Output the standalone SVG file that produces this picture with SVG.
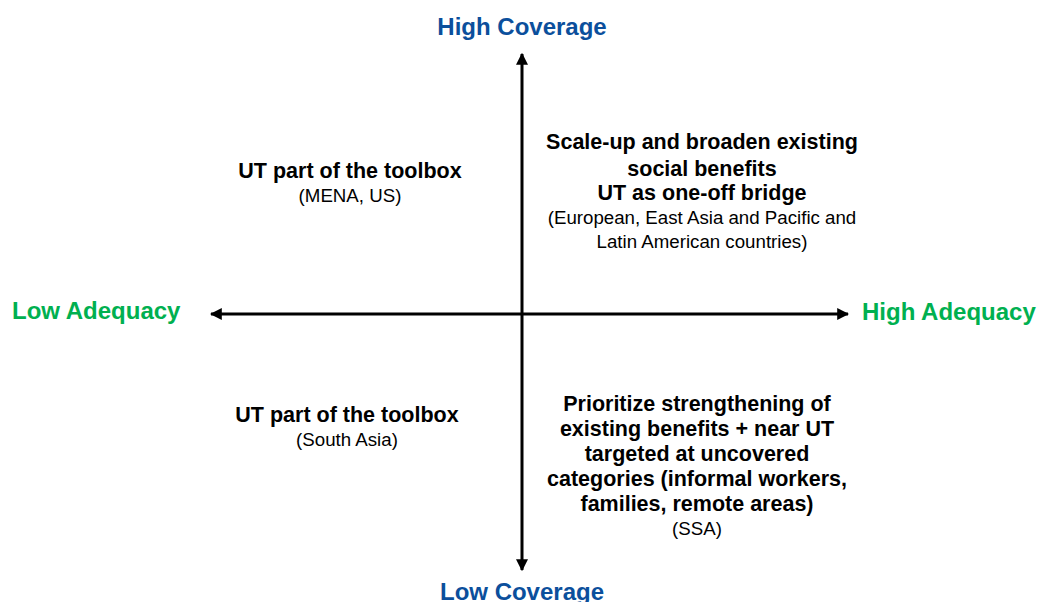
<svg xmlns="http://www.w3.org/2000/svg" width="1037" height="602" viewBox="0 0 1037 602">
<style>
.ax{fill:#0B4F9C;font-family:"Liberation Sans",Arial,sans-serif;font-weight:bold;font-size:24px;text-anchor:middle}
.ad{fill:#00B050;font-family:"Liberation Sans",Arial,sans-serif;font-weight:bold;font-size:24px}
.b{fill:#000;font-family:"Liberation Sans",Arial,sans-serif;font-weight:bold;font-size:21.5px;text-anchor:middle}
.r{fill:#000;font-family:"Liberation Sans",Arial,sans-serif;font-size:18.7px;text-anchor:middle}
.ln{stroke:#000;stroke-width:3;fill:none}
</style>
<defs>
<marker id="ah" viewBox="0 0 10 10" refX="9" refY="5" markerWidth="4" markerHeight="4" orient="auto-start-reverse" markerUnits="strokeWidth">
<path d="M0,0 L10,5 L0,10 z" fill="#000"/>
</marker>
</defs>
<rect width="1037" height="602" fill="#fff"/>
<g id="connectors">
<line class="ln" x1="522" y1="54" x2="522" y2="570" marker-start="url(#ah)" marker-end="url(#ah)"/>
<line class="ln" x1="211" y1="314" x2="848" y2="314" marker-start="url(#ah)" marker-end="url(#ah)"/>
</g>
<g id="high-coverage"><text class="ax" x="522" y="35">High Coverage</text></g>
<g id="low-coverage"><text class="ax" x="522" y="600">Low Coverage</text></g>
<g id="low-adequacy"><text class="ad" x="12" y="319">Low Adequacy</text></g>
<g id="high-adequacy"><text class="ad" x="862" y="320">High Adequacy</text></g>
<g id="top-left">
<text class="b" x="350" y="178">UT part of the toolbox</text>
<text class="r" x="350" y="202">(MENA, US)</text>
</g>
<g id="top-right">
<text class="b" x="702" y="149">Scale-up and broaden existing</text>
<text class="b" x="702" y="176">social benefits</text>
<text class="b" x="702" y="200">UT as one-off bridge</text>
<text class="r" x="702" y="224">(European, East Asia and Pacific and</text>
<text class="r" x="702" y="248">Latin American countries)</text>
</g>
<g id="bottom-left">
<text class="b" x="347" y="422">UT part of the toolbox</text>
<text class="r" x="347" y="446">(South Asia)</text>
</g>
<g id="bottom-right">
<text class="b" x="697" y="411">Prioritize strengthening of</text>
<text class="b" x="697" y="436">existing benefits + near UT</text>
<text class="b" x="697" y="461">targeted at uncovered</text>
<text class="b" x="697" y="486">categories (informal workers,</text>
<text class="b" x="697" y="511">families, remote areas)</text>
<text class="r" x="697" y="535">(SSA)</text>
</g>
</svg>
